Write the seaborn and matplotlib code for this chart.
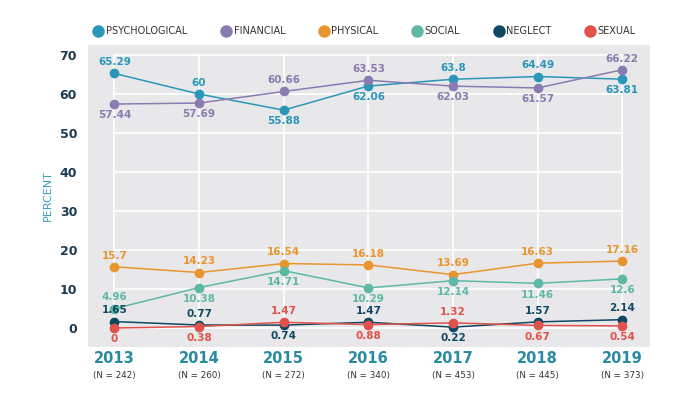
import matplotlib
import matplotlib.pyplot as plt
import matplotlib.transforms as mtransforms
import pandas as pd
import seaborn as sns

matplotlib.use("Agg")

YEARS = [2013, 2014, 2015, 2016, 2017, 2018, 2019]
N_LABELS = ["(N = 242)", "(N = 260)", "(N = 272)", "(N = 340)", "(N = 453)", "(N = 445)", "(N = 373)"]

PSYCHOLOGICAL = [65.29, 60, 55.88, 62.06, 63.8, 64.49, 63.81]
FINANCIAL = [57.44, 57.69, 60.66, 63.53, 62.03, 61.57, 66.22]
PHYSICAL = [15.7, 14.23, 16.54, 16.18, 13.69, 16.63, 17.16]
SOCIAL = [4.96, 10.38, 14.71, 10.29, 12.14, 11.46, 12.6]
NEGLECT = [1.65, 0.77, 0.74, 1.47, 0.22, 1.57, 2.14]
SEXUAL = [0, 0.38, 1.47, 0.88, 1.32, 0.67, 0.54]

SERIES = {
    "PSYCHOLOGICAL": PSYCHOLOGICAL,
    "FINANCIAL": FINANCIAL,
    "PHYSICAL": PHYSICAL,
    "SOCIAL": SOCIAL,
    "NEGLECT": NEGLECT,
    "SEXUAL": SEXUAL,
}

COLORS = {
    "PSYCHOLOGICAL": "#2b97b8",
    "FINANCIAL": "#8a7cb0",
    "PHYSICAL": "#e8952e",
    "SOCIAL": "#5db8a6",
    "NEGLECT": "#0f4863",
    "SEXUAL": "#e0524a",
}

# label above (+1) or below (-1) each point
LABEL_SIDE = {
    "PSYCHOLOGICAL": [1, 1, -1, -1, 1, 1, -1],
    "FINANCIAL": [-1, -1, 1, 1, -1, -1, 1],
    "PHYSICAL": [1, 1, 1, 1, 1, 1, 1],
    "SOCIAL": [1, -1, -1, -1, -1, -1, -1],
    "NEGLECT": [1, 1, -1, 1, -1, 1, 1],
    "SEXUAL": [-1, -1, 1, -1, 1, -1, -1],
}


def main() -> None:
    sns.set_theme(style="white")
    plt.rcParams["font.family"] = ["DejaVu Sans"]

    df = pd.DataFrame(
        [(name, y, v) for name, vals in SERIES.items() for y, v in zip(YEARS, vals)],
        columns=["type", "year", "percent"],
    )

    fig = plt.figure(figsize=(7, 3.94), dpi=100)
    ax = fig.add_axes([0.126, 0.119, 0.803, 0.767])
    ax.set_facecolor("#e8e8ea")

    # grid only within the data range
    for y in range(0, 71, 10):
        ax.plot([YEARS[0], YEARS[-1]], [y, y], color="white", lw=1.2, zorder=0)
    for x in YEARS:
        ax.plot([x, x], [-0.5, 70], color="white", lw=1.2, zorder=0)

    sns.lineplot(
        data=df, x="year", y="percent", hue="type", palette=COLORS,
        marker="o", markersize=7, markeredgewidth=0, linewidth=1.1,
        ax=ax, legend=False, zorder=3,
    )

    for name, vals in SERIES.items():
        for x, v, side in zip(YEARS, vals, LABEL_SIDE[name]):
            ax.annotate(
                f"{v:g}", (x, v), xytext=(0, 4.5 * side), textcoords="offset points",
                ha="center", va="bottom" if side > 0 else "top",
                fontsize=7.5, fontweight="bold", color=COLORS[name], zorder=5,
            )

    ax.set_xlim(2012.69, 2019.33)
    ax.set_ylim(-4.9, 72.6)
    ax.set_yticks(range(0, 71, 10))
    ax.set_xticks(YEARS)
    ax.set_xticklabels([str(y) for y in YEARS])
    for lab in ax.get_xticklabels():
        lab.set_fontweight("bold")
        lab.set_fontsize(10.5)
        lab.set_color("#2a8aa0")
    for lab in ax.get_yticklabels():
        lab.set_fontweight("bold")
        lab.set_fontsize(9)
        lab.set_color("#1c3a50")
    ax.tick_params(axis="x", length=0, pad=3)
    ax.tick_params(axis="y", length=0, pad=8)

    trans = mtransforms.blended_transform_factory(ax.transData, ax.transAxes)
    for x, n in zip(YEARS, N_LABELS):
        ax.text(x, -0.08, n, transform=trans, ha="center", va="top",
                fontsize=6.3, color="#333333")

    ax.set_xlabel("")
    ax.set_ylabel("PERCENT", color="#3a9fb5", fontsize=8, labelpad=5)
    for spine in ax.spines.values():
        spine.set_visible(False)

    handles = [
        plt.Line2D([], [], marker="o", linestyle="", markersize=9,
                   markerfacecolor=COLORS[name], markeredgewidth=0, label=name)
        for name in SERIES
    ]
    leg = fig.legend(
        handles=handles, loc="center left", bbox_to_anchor=(0.121, 0.921),
        ncol=6, frameon=False, fontsize=7, handletextpad=0.3,
        columnspacing=3.45, handlelength=1.0,
    )
    for t in leg.get_texts():
        t.set_color("#333333")

    fig.savefig("out.png", dpi=100)
    plt.close(fig)


if __name__ == "__main__":
    main()
